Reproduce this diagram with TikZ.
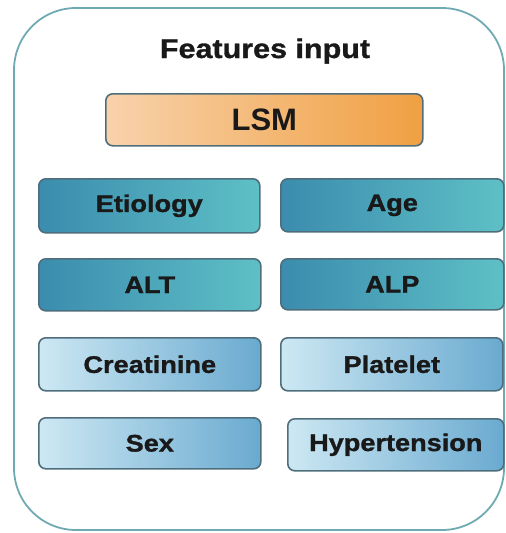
\documentclass[tikz,border=0pt]{standalone}
\usepackage{fontspec}
\setmainfont{Liberation Sans}
\newfontfamily\widefont[FakeStretch=1.13,BoldFeatures={FakeBold=1.2}]{Liberation Sans}
\definecolor{frame}{HTML}{6FAAB2}
\definecolor{boxline}{HTML}{4F6E7C}
\definecolor{orL}{HTML}{F8D2AC}
\definecolor{orR}{HTML}{F0A042}
\definecolor{tlL}{HTML}{3B8CAE}
\definecolor{tlR}{HTML}{5EC0C6}
\definecolor{ltL}{HTML}{CDE8F3}
\definecolor{ltR}{HTML}{6AAAD0}
\tikzset{
  feat/.style={draw=boxline, line width=1.6pt, rounded corners=7pt, anchor=north west,
    inner sep=0pt, font=\widefont\fontsize{24}{27}\selectfont\bfseries, text=black!90},
  tealbox/.style={feat, left color=tlL, right color=tlR},
  lightbox/.style={feat, left color=ltL, right color=ltR},
  orbox/.style={feat, left color=orL, right color=orR,
    font=\fontsize{31}{34}\selectfont\bfseries}
}
\begin{document}
\begin{tikzpicture}[x=1pt,y=-1pt]
\useasboundingbox (0,0) rectangle (506,533);
\draw[frame, line width=1.8pt, rounded corners=62pt] (14,8) rectangle (504,530);
\node[anchor=base, inner sep=0pt, text=black!90] (title) at (265,58)
  {\widefont\fontsize{27}{30}\selectfont\bfseries Features input};
\node[orbox, minimum width=317pt, minimum height=52pt] (lsm) at (105,93) {LSM};
\node[tealbox, minimum width=221pt, minimum height=54pt] (etio) at (38,178) {Etiology};
\node[tealbox, minimum width=223pt, minimum height=53pt] (age) at (280,178) {Age};
\node[tealbox, minimum width=222pt, minimum height=52pt] (alt) at (38,258) {ALT};
\node[tealbox, minimum width=223pt, minimum height=51pt] (alp) at (280,258) {ALP};
\node[lightbox, minimum width=222pt, minimum height=53pt] (crea) at (38,337) {Creatinine};
\node[lightbox, minimum width=222pt, minimum height=53pt] (plat) at (280,337) {Platelet};
\node[lightbox, minimum width=222pt, minimum height=51pt] (sex) at (38,417) {Sex};
\node[lightbox, minimum width=216pt, minimum height=52pt] (hyp) at (287,418) {Hypertension};
\end{tikzpicture}
\end{document}
